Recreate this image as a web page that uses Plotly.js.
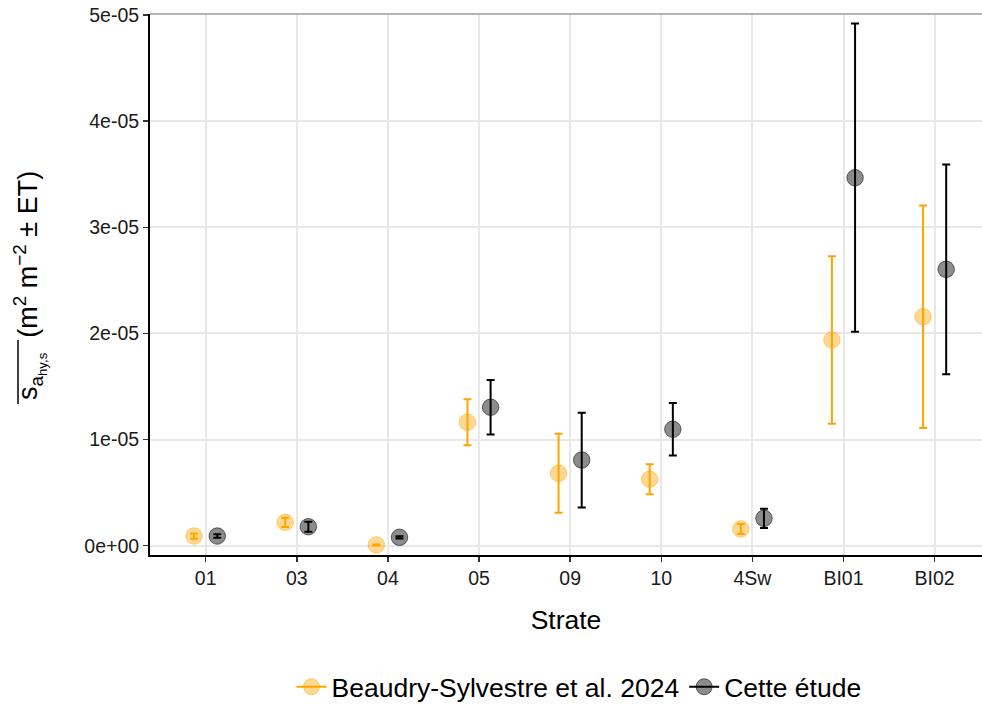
<!DOCTYPE html>
<html>
<head>
<meta charset="utf-8">
<script src="https://cdn.plot.ly/plotly-3.0.1.min.js"></script>
<style>html,body{margin:0;padding:0;background:#fff;}#chart{width:982px;height:705px;}</style>
</head>
<body>
<div id="chart"></div>
<script>
const strates = ["01","03","04","05","09","10","4Sw","BI01","BI02"];
const seriesNames = ["Beaudry-Sylvestre et al. 2024","Cette étude"];
const beaudryMean = [0.091e-5,0.220e-5,0.007e-5,1.163e-5,0.682e-5,0.626e-5,0.157e-5,1.938e-5,2.157e-5];
const beaudrySE   = [0.025e-5,0.044e-5,0.004e-5,0.216e-5,0.372e-5,0.142e-5,0.047e-5,0.790e-5,1.049e-5];
const etudeMean   = [0.091e-5,0.179e-5,0.079e-5,1.304e-5,0.807e-5,1.097e-5,0.258e-5,3.467e-5,2.604e-5];
const etudeSE     = [0.016e-5,0.047e-5,0.010e-5,0.257e-5,0.446e-5,0.248e-5,0.091e-5,1.452e-5,0.988e-5];
const yTickVals = [0,1e-5,2e-5,3e-5,4e-5,5e-5];
const yTickText = ["0e+00","1e-05","2e-05","3e-05","4e-05","5e-05"];

const FONT = "'Liberation Sans', Arial, sans-serif";
const ORANGE = "#FFA500";
const dodge = 0.127;
const idx = strates.map((_, i) => i);

function dataTrace(mean, se, off, col, fill, edge) {
  return {
    type: "scatter", mode: "markers", showlegend: false, hoverinfo: "skip",
    x: idx.map(i => i + off), y: mean,
    error_y: {type: "data", array: se, visible: true, color: col, thickness: 2, width: 4},
    marker: {size: 16.5, color: fill, line: {color: edge, width: 1}}
  };
}
function legendTrace(name, col, fill, edge) {
  return {
    type: "scatter", mode: "lines+markers", name: name, x: [null], y: [null],
    line: {color: col, width: 2},
    marker: {size: 16.5, color: fill, line: {color: edge, width: 1}}
  };
}

const traces = [
  dataTrace(beaudryMean, beaudrySE, -dodge, ORANGE, "rgba(255,165,0,0.42)", "rgba(255,165,0,0.5)"),
  dataTrace(etudeMean, etudeSE, dodge, "#000000", "rgba(0,0,0,0.45)", "rgba(0,0,0,0.55)"),
  legendTrace(seriesNames[0], ORANGE, "rgba(255,165,0,0.42)", "rgba(255,165,0,0.5)"),
  legendTrace(seriesNames[1], "#000000", "rgba(0,0,0,0.45)", "rgba(0,0,0,0.55)")
];

const layout = {
  width: 982, height: 705,
  margin: {l: 150, r: 0, t: 14, b: 150},
  paper_bgcolor: "#fff", plot_bgcolor: "#fff",
  font: {family: FONT, size: 20, color: "#1a1a1a"},
  xaxis: {
    range: [-0.611, 8.52], tickvals: idx, ticktext: strates,
    showgrid: true, gridcolor: "#e8e8e8", gridwidth: 2, zeroline: false,
    showline: true, linecolor: "#000", linewidth: 2,
    ticks: "outside", ticklen: 5, tickwidth: 1.5, tickcolor: "#333",
    tickfont: {size: 19.5, color: "#1a1a1a"},
    title: {text: "Strate", font: {size: 26.5, color: "#000"}, standoff: 22}
  },
  yaxis: {
    range: [-0.0876e-5, 5.0094e-5], tickvals: yTickVals, ticktext: yTickText,
    showgrid: true, gridcolor: "#e8e8e8", gridwidth: 2, zeroline: false,
    showline: true, linecolor: "#000", linewidth: 2,
    ticks: "outside", ticklen: 5, tickwidth: 1.5, tickcolor: "#333",
    tickfont: {size: 19.5, color: "#1a1a1a"}
  },
  shapes: [
    {type: "line", xref: "paper", yref: "paper", x0: 0, x1: 1, y0: 1, y1: 1, line: {color: "#9a9a9a", width: 1.5}},
    {type: "line", xref: "paper", yref: "paper", x0: (18 - 150) / 832, x1: (18 - 150) / 832,
     y0: (555 - 404) / 541, y1: (555 - 340) / 541, line: {color: "#000", width: 1.5}}
  ],
  annotations: [{
    xref: "paper", yref: "paper", x: (30 - 150) / 832, y: (555 - 286) / 541,
    xanchor: "center", yanchor: "middle", textangle: -90, showarrow: false,
    text: "s<sub>a<sub>hy,s</sub></sub>  (m<sup>2</sup> m<sup>−2</sup> ± ET)",
    font: {size: 27, color: "#000"}
  }],
  showlegend: true,
  legend: {
    orientation: "h", xref: "paper", yref: "container",
    x: (579 - 150) / 832, xanchor: "center", y: 1 - 687 / 705, yanchor: "middle",
    font: {size: 26.5, color: "#000"}, itemwidth: 30, bgcolor: "rgba(0,0,0,0)"
  }
};

Plotly.newPlot("chart", traces, layout, {displayModeBar: false, staticPlot: true});
</script>
</body>
</html>
